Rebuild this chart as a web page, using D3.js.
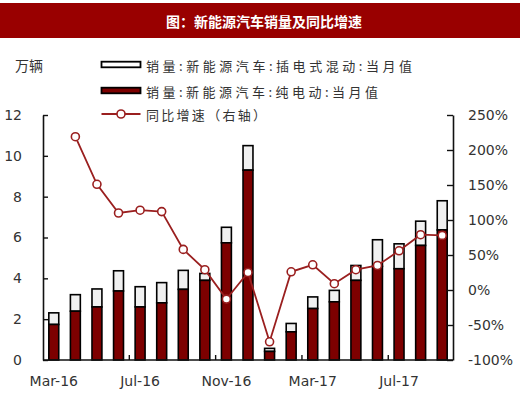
<!DOCTYPE html>
<html><head><meta charset="utf-8">
<script src="https://cdn.jsdelivr.net/npm/d3@7"></script>
<style>
body{margin:0;background:#fff;}
svg{display:block;}
</style></head>
<body>
<svg id="c" width="520" height="398"></svg>
<script>
const months = ["Mar-16","Apr-16","May-16","Jun-16","Jul-16","Aug-16","Sep-16","Oct-16","Nov-16","Dec-16","Jan-17","Feb-17","Mar-17","Apr-17","May-17","Jun-17","Jul-17","Aug-17","Sep-17"];
const bevValues = [1.74,2.39,2.60,3.38,2.60,2.80,3.46,3.90,5.74,9.30,0.42,1.38,2.52,2.85,3.90,4.59,4.47,5.61,6.37];
const phevValues = [0.57,0.81,0.88,0.99,0.99,0.99,0.93,0.34,0.76,1.20,0.15,0.41,0.57,0.56,0.73,1.30,1.22,1.19,1.43];
const growthValues = [null,2.19,1.51,1.10,1.14,1.12,0.58,0.29,-0.13,0.25,-0.74,0.26,0.36,0.09,0.29,0.35,0.56,0.79,0.78];
const leftTicks = [0,2,4,6,8,10,12];
const rightTicks = [-1,-0.5,0,0.5,1,1.5,2,2.5];
const xLabels = ["Mar-16","Jul-16","Nov-16","Mar-17","Jul-17"];
const title = "图：新能源汽车销量及同比增速";
const unitLabel = "万辆";
const legendLabels = ["销量:新能源汽车:插电式混动:当月值","销量:新能源汽车:纯电动:当月值","同比增速（右轴）"];

const svg = d3.select("#c");
const L = 43, R = 453, T = 115, B = 360;
const RED = "#7d0000", LIGHT = "#f0f0f0", LINE = "#9a1f1f", AX = "#111";
const numFont = "'DejaVu Sans', Verdana, sans-serif";
const cjkFont = "'Noto Sans CJK SC', sans-serif";

// Title bar
svg.append("rect").attr("x",0).attr("y",3).attr("width",520).attr("height",35).attr("fill","#990000");
svg.append("text").attr("x",264).attr("y",21).attr("text-anchor","middle").attr("dominant-baseline","central")
  .attr("fill","#fff").attr("font-family",cjkFont).attr("font-weight","bold").attr("font-size",14)
  .text(title);

const x = d3.scaleBand().domain(months).range([L,R]).paddingInner(0.54).paddingOuter(0.27);
const yL = d3.scaleLinear().domain([0,12]).range([B,T]);
const yR = d3.scaleLinear().domain([-1,2.5]).range([B,T]);

// Bars
const rows = months.map((m,i)=>({m, bev:bevValues[i], phev:phevValues[i]}));
const g = svg.append("g");
g.selectAll("rect.phev").data(rows).join("rect").attr("class","phev")
  .attr("x",d=>x(d.m)).attr("width",x.bandwidth())
  .attr("y",d=>yL(d.bev+d.phev)).attr("height",d=>yL(d.bev)-yL(d.bev+d.phev))
  .attr("fill",LIGHT).attr("stroke","#000").attr("stroke-width",1.6);
g.selectAll("rect.bev").data(rows).join("rect").attr("class","bev")
  .attr("x",d=>x(d.m)).attr("width",x.bandwidth())
  .attr("y",d=>yL(d.bev)).attr("height",d=>yL(0)-yL(d.bev))
  .attr("fill",RED).attr("stroke","#000").attr("stroke-width",1.6);

// Axes
function styleAxis(sel){
  sel.selectAll("path.domain").attr("stroke",AX).attr("stroke-width",1.6);
  sel.selectAll(".tick line").attr("stroke",AX).attr("stroke-width",1.4);
  sel.selectAll("text").attr("font-family",numFont).attr("font-size",14).attr("fill","#333");
}
const axL = svg.append("g").attr("transform",`translate(${L},0)`)
  .call(d3.axisLeft(yL).tickValues(leftTicks).tickSizeInner(-5).tickSizeOuter(0).tickPadding(21).tickFormat(d3.format("d")));
styleAxis(axL);
const axR = svg.append("g").attr("transform",`translate(${R},0)`)
  .call(d3.axisRight(yR).tickValues(rightTicks).tickSizeInner(-6).tickSizeOuter(0).tickPadding(15).tickFormat(d3.format(".0%")));
styleAxis(axR);
axR.selectAll("text").text(d=>d3.format(".0%")(d).replace("−","-"));

const axB = svg.append("g").attr("transform",`translate(0,${B})`)
  .call(d3.axisBottom(x).tickValues(xLabels).tickSize(0).tickPadding(16));
axB.select("path.domain").remove();
axB.selectAll("text").attr("font-family",numFont).attr("font-size",14).attr("fill","#333");
svg.append("line").attr("x1",L).attr("x2",R).attr("y1",B).attr("y2",B).attr("stroke",AX).attr("stroke-width",1.6);
// minor ticks at category boundaries every 4 months
const gapHalf = (x.step()-x.bandwidth())/2;
[4,8,12,16].forEach(k=>{
  const bx = x(months[k]) - gapHalf;
  svg.append("line").attr("x1",bx).attr("x2",bx).attr("y1",B).attr("y2",B-5).attr("stroke",AX).attr("stroke-width",1.4);
});

// Growth line
const pts = months.map((m,i)=>({m, v:growthValues[i]})).filter(d=>d.v!==null);
const line = d3.line().x(d=>x(d.m)+x.bandwidth()/2).y(d=>yR(d.v));
svg.append("path").datum(pts).attr("d",line).attr("fill","none").attr("stroke",LINE).attr("stroke-width",1.8);
svg.selectAll("circle.pt").data(pts).join("circle").attr("class","pt")
  .attr("cx",d=>x(d.m)+x.bandwidth()/2).attr("cy",d=>yR(d.v)).attr("r",4)
  .attr("fill","#fff").attr("stroke",LINE).attr("stroke-width",1.6);

// Unit label
svg.append("text").attr("x",15).attr("y",65).attr("dominant-baseline","central")
  .attr("font-family",cjkFont).attr("font-size",14).attr("fill","#333").text(unitLabel);

// Legend
const lx = 101.5, lw = 39, tx = 146;
const legY = [64.5, 90.5, 114];
const legW = [266, 232, 120];
svg.append("rect").attr("x",lx).attr("y",legY[0]-2.8).attr("width",lw).attr("height",5.6)
  .attr("fill","#fff").attr("stroke","#000").attr("stroke-width",1.8);
svg.append("rect").attr("x",lx).attr("y",legY[1]-2.8).attr("width",lw).attr("height",5.6)
  .attr("fill",RED).attr("stroke","#000").attr("stroke-width",1.8);
svg.append("line").attr("x1",lx).attr("x2",lx+lw).attr("y1",legY[2]).attr("y2",legY[2]).attr("stroke",LINE).attr("stroke-width",1.8);
svg.append("circle").attr("cx",lx+lw/2).attr("cy",legY[2]).attr("r",4).attr("fill","#fff").attr("stroke",LINE).attr("stroke-width",1.6);
legendLabels.forEach((t,i)=>{
  svg.append("text").attr("x",tx).attr("y",legY[i]+0.5).attr("dominant-baseline","central")
    .attr("font-family",cjkFont).attr("font-size",13).attr("fill","#333")
    .attr("textLength",legW[i]).attr("lengthAdjust","spacing").text(t);
});
</script>
</body></html>
